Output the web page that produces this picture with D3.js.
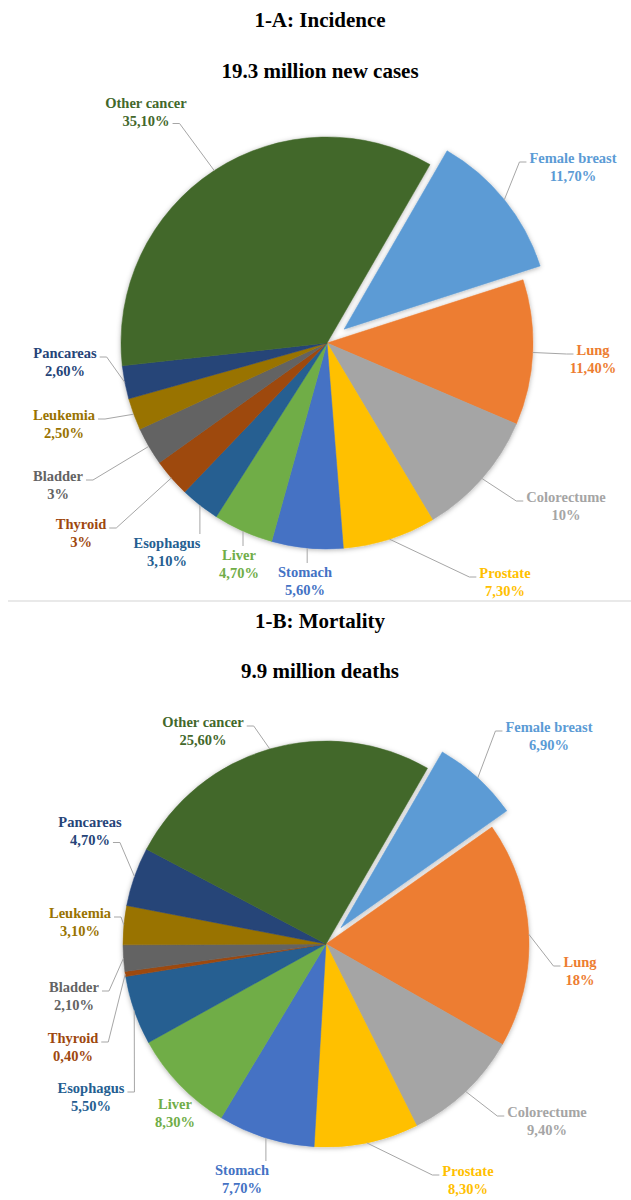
<!DOCTYPE html>
<html>
<head>
<meta charset="utf-8">
<script src="https://cdn.jsdelivr.net/npm/d3@7"></script>
<style>
  body { margin: 0; background: #fff; }
  svg { display: block; }
  svg text { font-family: "Liberation Serif", "DejaVu Serif", "Noto Serif", "FreeSerif", Tinos, serif; font-weight: 700; }
</style>
</head>
<body>
<svg width="631" height="1200"></svg>
<script>
const svg = d3.select("svg");
const width = +svg.attr("width");

// data
const categories = ["Female breast", "Lung", "Colorectume", "Prostate", "Stomach", "Liver",
  "Esophagus", "Thyroid", "Bladder", "Leukemia", "Pancareas", "Other cancer"];
const incidence = [11.7, 11.4, 10, 7.3, 5.6, 4.7, 3.1, 3, 3, 2.5, 2.6, 35.1];
const mortality = [6.9, 18, 9.4, 8.3, 7.7, 8.3, 5.5, 0.4, 2.1, 3.1, 4.7, 25.6];
const colors = ["#5B9BD5", "#ED7D31", "#A5A5A5", "#FFC000", "#4472C4", "#70AD47",
  "#255E91", "#9E480E", "#636363", "#997300", "#264478", "#43682B"];

// label layout: [center x, first line y, leader side]
const layoutA = [[573,158,"l1"],[593,350,"l1"],[566,497,"l1"],[505,573,"l1"],[305,572,"t"],[239,555,"t"],
  [167,543,"t"],[81,524,"r1"],[58,476,"r1"],[64,415,"r1"],[65,353,"r1"],[146,103,"r2"]];
const layoutB = [[549,727,"l1"],[580,962,"l1"],[547,1112,"l1"],[468,1171,"l1"],[242,1170,"t"],[175,1104,"n"],
  [91,1088,"r1"],[73,1038,"r1"],[74,987,"r1"],[80,913,"r1"],[90,822,"r2"],[203,722,"r1"]];

const fmt = v => Number.isInteger(v) ? v + "%" : v.toFixed(2).replace(".", ",") + "%";

const defs = svg.append("defs");
defs.append("filter").attr("id", "shadow")
  .attr("x", "-10%").attr("y", "-10%").attr("width", "120%").attr("height", "120%")
  .append("feDropShadow")
  .attr("dx", 0).attr("dy", 1).attr("stdDeviation", 2.5)
  .attr("flood-color", "#000").attr("flood-opacity", 0.3);

function titles(t1, y1, t2, y2){
  svg.append("text").attr("x", 320).attr("y", y1).attr("text-anchor", "middle")
    .attr("font-size", 21).text(t1);
  svg.append("text").attr("x", 320).attr("y", y2).attr("text-anchor", "middle")
    .attr("font-size", 21).text(t2);
}

function drawPie(values, layout, cx, cy, r){
  const rot = 30 * Math.PI / 180;
  const pie = d3.pie().sort(null).value(d => d)
    .startAngle(rot).endAngle(rot + 2 * Math.PI);
  const arcs = pie(values);
  const arc = d3.arc().innerRadius(0).outerRadius(r);
  const explode = 22;

  const g = svg.append("g").attr("transform", `translate(${cx},${cy})`);
  const gs = g.append("g").attr("filter", "url(#shadow)");

  const offset = (d, i) => {
    if (i !== 0) return [0, 0];
    const m = (d.startAngle + d.endAngle) / 2;
    return [Math.sin(m) * explode, -Math.cos(m) * explode];
  };

  gs.selectAll("path").data(arcs).join("path")
    .attr("d", arc)
    .attr("fill", (d, i) => colors[i])
    .attr("stroke", (d, i) => colors[i])
    .attr("stroke-width", 0.5)
    .attr("transform", (d, i) => `translate(${offset(d, i)})`);

  const lineH = 17.5;
  const fs = 14.5;

  arcs.forEach((d, i) => {
    const [lx, ly, side] = layout[i];
    const lab = svg.append("text")
      .attr("text-anchor", "middle")
      .attr("font-size", fs)
      .attr("fill", colors[i]);
    const t1 = lab.append("tspan").attr("x", lx).attr("y", ly + 5).text(categories[i]);
    const t2 = lab.append("tspan").attr("x", lx).attr("y", ly + 5 + lineH).text(fmt(values[i]));

    if (side === "n") return;
    const m = (d.startAngle + d.endAngle) / 2;
    const [ox, oy] = offset(d, i);
    const ax = cx + ox + Math.sin(m) * r;
    const ay = cy + oy - Math.cos(m) * r;
    let pts;
    if (side === "t") {
      pts = [[ax, ay], [ax, ly - 9]];
    } else {
      const line = side[1] === "1" ? t1 : t2;
      const w = line.node().getComputedTextLength();
      const yy = side[1] === "1" ? ly + 4 : ly + lineH + 3;
      if (side[0] === "r") {
        const sx = lx + w / 2 + 3;
        pts = [[sx, yy], [sx + 7, yy], [ax, ay]];
      } else {
        const sx = lx - w / 2 - 3;
        pts = [[sx, yy], [sx - 7, yy], [ax, ay]];
      }
    }
    svg.append("path")
      .attr("d", d3.line()(pts))
      .attr("fill", "none")
      .attr("stroke", "#a6a6a6")
      .attr("stroke-width", 1);
  });
}

titles("1-A: Incidence", 27, "19.3 million new cases", 78);
drawPie(incidence, layoutA, 327, 343, 206);

svg.append("line").attr("x1", 8).attr("x2", width).attr("y1", 601).attr("y2", 601)
  .attr("stroke", "#e9e9e9").attr("stroke-width", 2);

titles("1-B: Mortality", 628, "9.9 million deaths", 678);
drawPie(mortality, layoutB, 326, 944, 203);
</script>
</body>
</html>
